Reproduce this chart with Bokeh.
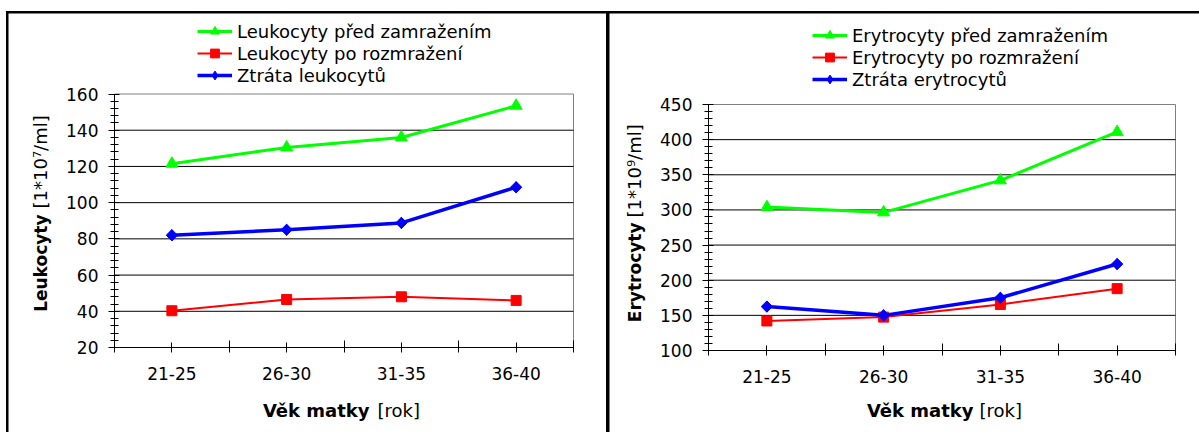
import math
import numpy as np
from bokeh.plotting import figure
from bokeh.models import (Range1d, SingleIntervalTicker, FixedTicker, Label,
                          Legend, LegendItem, LinearAxis)
from bokeh.layouts import row
from bokeh.embed import file_html
from bokeh.resources import INLINE

# ---------------- data ----------------
categories = ["21-25", "26-30", "31-35", "36-40"]

leu_pred = [121.5, 130.5, 136, 153.5]
leu_po = [40.3, 46.5, 48, 46]
leu_ztrata = [82, 85, 88.8, 108.5]

ery_pred = [304, 296.5, 342, 411]
ery_po = [142, 147.5, 165.5, 188]
ery_ztrata = [162.5, 150, 175, 223]

leu_labels = ["Leukocyty před zamražením", "Leukocyty po rozmražení", "Ztráta leukocytů"]
ery_labels = ["Erytrocyty před zamražením", "Erytrocyty po rozmražení", "Ztráta erytrocytů"]

x_title = ("Věk matky", "[rok]")
leu_ytitle = ("Leukocyty", "[1*10⁷/ml]")
ery_ytitle = ("Erytrocyty", "[1*10⁹/ml]")

leu_yrange = (20, 160, 20)
ery_yrange = (100, 450, 50)

colors = ["#00FF00", "#FF0000", "#0000FF"]
FONT = "DejaVu Sans"


def screen_label(x, y, text, bold, size, align, angle=0.0):
    return Label(x=x, y=y, x_units="screen", y_units="screen",
                 text=text, text_font=FONT,
                 text_font_style="bold" if bold else "normal",
                 text_font_size=size, text_align=align,
                 text_baseline="alphabetic", angle=angle, text_color="black")


def make_panel(series, labels, ytitle, yr, W, H, box, legend_loc, xt_pos, yt_pos):
    """box = plot-area (left, top, right, bottom) in canvas pixels."""
    ymin, ymax, step = yr
    n = len(categories)
    xs = list(range(1, n + 1))
    xd0, xd1 = 0.5, n + 0.5
    l, t, r, b = box
    kx = (r - l) / (xd1 - xd0)
    ky = (b - t) / (ymax - ymin)
    x_range = Range1d(xd0 - l / kx, xd1 + (W - r) / kx)
    y_range = Range1d(ymin - (H - b) / ky, ymax + t / ky)

    p = figure(width=W, height=H, output_backend="svg", toolbar_location=None,
               x_range=x_range, y_range=y_range, min_border=0,
               x_axis_location=None, y_axis_location=None)
    p.grid.visible = False
    p.outline_line_color = None
    p.background_fill_color = "white"
    p.border_fill_color = "white"

    # plot-area border and horizontal grid lines
    gticks = np.arange(ymin + step, ymax, step)
    p.quad(left=[xd0], right=[xd1], bottom=[ymin], top=[ymax], fill_color=None,
           line_color="#808080", line_width=1)
    p.segment(x0=[xd0] * len(gticks), x1=[xd1] * len(gticks), y0=gticks, y1=gticks,
              line_color="black", line_width=1)

    # axes fixed at the plot-area edges
    xa = LinearAxis(fixed_location=ymin, bounds=(xd0, xd1),
                    ticker=FixedTicker(ticks=xs, minor_ticks=[x - 0.5 for x in xs] + [xd1]))
    xa.major_label_overrides = {x: c for x, c in zip(xs, categories)}
    xa.major_tick_in = 5
    xa.major_tick_out = 5
    xa.minor_tick_in = 7
    xa.minor_tick_out = 5
    xa.major_label_standoff = 14
    ya = LinearAxis(fixed_location=xd0, bounds=(ymin, ymax),
                    ticker=SingleIntervalTicker(interval=step, num_minor_ticks=5))
    ya.major_tick_in = 5
    ya.major_tick_out = 6
    ya.minor_tick_in = 4
    ya.minor_tick_out = 4
    ya.major_label_standoff = 10
    for ax in (xa, ya):
        ax.axis_line_color = "black"
        ax.major_tick_line_color = "black"
        ax.minor_tick_line_color = "black"
        ax.major_label_text_font = FONT
        ax.major_label_text_font_size = "17px"
        ax.major_label_text_color = "black"
    p.add_layout(xa, "below")
    p.add_layout(ya, "left")

    widths = [3, 2, 3.5]
    items = []
    # green: triangles
    lr = p.line(xs, series[0], line_color=colors[0], line_width=widths[0])
    sr = p.scatter(xs, series[0], marker="triangle", size=12,
                   fill_color=colors[0], line_color=colors[0])
    items.append(LegendItem(label=labels[0], renderers=[lr, sr]))
    # red: squares
    lr = p.line(xs, series[1], line_color=colors[1], line_width=widths[1])
    sr = p.scatter(xs, series[1], marker="square", size=10,
                   fill_color=colors[1], line_color=colors[1])
    items.append(LegendItem(label=labels[1], renderers=[lr, sr]))
    # blue: diamonds (diamond glyph for the legend, rotated square on top in the chart)
    lr = p.line(xs, series[2], line_color=colors[2], line_width=widths[2])
    dr = p.scatter(xs, series[2], marker="diamond", size=11,
                   fill_color=colors[2], line_color=colors[2])
    p.scatter(xs, series[2], marker="square", size=8, angle=math.pi / 4,
              fill_color=colors[2], line_color=colors[2])
    items.append(LegendItem(label=labels[2], renderers=[lr, dr]))

    leg = Legend(items=items, location=legend_loc, orientation="vertical",
                 padding=0, margin=0, spacing=0, glyph_width=35,
                 glyph_height=22, label_height=22, label_standoff=5,
                 border_line_alpha=0, background_fill_alpha=0,
                 label_text_font=FONT, label_text_font_size="18px",
                 label_text_color="black")
    p.add_layout(leg, "center")

    # x title: bold part ends at xj1, normal part starts at xj2
    xj1, xj2, xy = xt_pos
    p.add_layout(screen_label(xj1, xy, x_title[0], True, "18px", "right"))
    p.add_layout(screen_label(xj2, xy, x_title[1], False, "18px", "left"))
    # y title (rotated)
    yx, yj1, yj2 = yt_pos
    p.add_layout(screen_label(yx, yj1, ytitle[0], True, "17px", "right", math.pi / 2))
    p.add_layout(screen_label(yx, yj2, ytitle[1], False, "18px", "left", math.pi / 2))
    return p


p1 = make_panel([leu_pred, leu_po, leu_ztrata], leu_labels, leu_ytitle, leu_yrange,
                W=598, H=419, box=(106, 80.5, 565, 334),
                legend_loc=(189, 346), xt_pos=(361, 369, 22), yt_pos=(32, 218, 224))
p2 = make_panel([ery_pred, ery_po, ery_ztrata], ery_labels, ery_ytitle, ery_yrange,
                W=590, H=419, box=(99, 91, 566, 337),
                legend_loc=(203, 342), xt_pos=(364, 370, 22), yt_pos=(25, 210, 215))
p1.margin = (2, 0, 0, 2)
p2.margin = (2, 0, 0, 3)

layout = row(p1, p2, margin=(11, 0, 0, 6), styles={"background-color": "black"})

open("out.html", "w").write(file_html(layout, INLINE))
